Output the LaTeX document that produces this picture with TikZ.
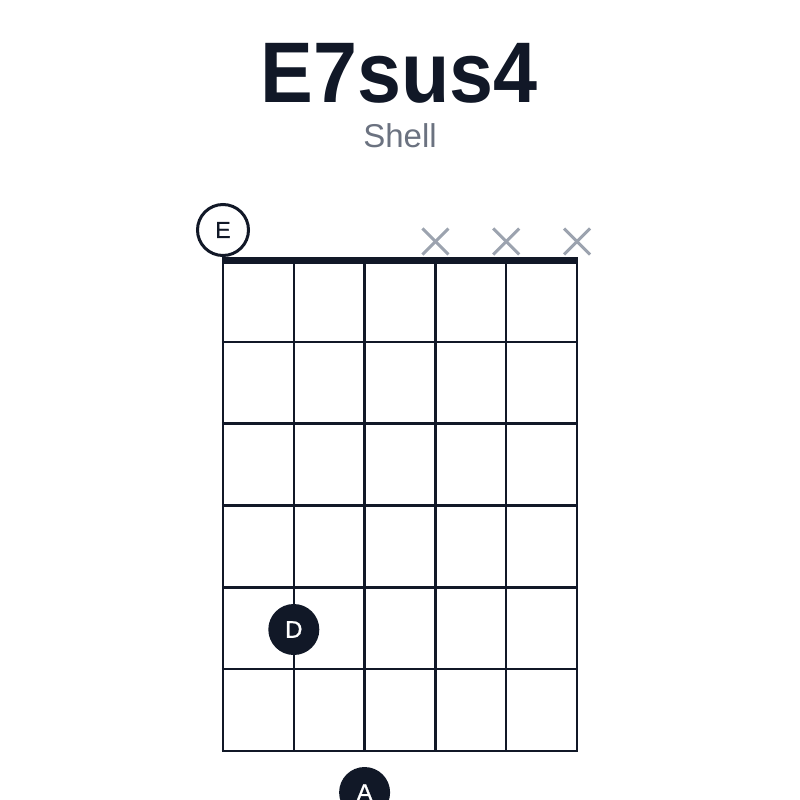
\documentclass[tikz,border=0pt]{standalone}
\usepackage{fontspec}
\setmainfont{Liberation Sans}
\newfontfamily\labelfont[FakeBold=0.9]{Liberation Sans}
\usetikzlibrary{calc}
\definecolor{ink}{HTML}{111827}
\definecolor{subgray}{HTML}{6B7280}
\definecolor{mutegray}{HTML}{9CA3AF}
\begin{document}
\begin{tikzpicture}[x=1pt,y=-1pt,
  gridline/.style={draw=ink,line width=2.4pt},
  nutline/.style={draw=ink,line width=7pt},
  mutemark/.style={draw=mutegray,line width=3pt},
  opendot/.style={circle,draw=ink,fill=white,line width=3pt,minimum size=51pt,inner sep=0pt,text=ink,font=\labelfont\fontsize{23}{23}\selectfont},
  fingerdot/.style={circle,fill=ink,minimum size=51pt,inner sep=0pt,text=white,font=\labelfont\fontsize{24}{24}\selectfont}]
\useasboundingbox (0,0) rectangle (800,800);
\clip (0,0) rectangle (800,800);
% title
\node[anchor=base,text=ink,inner sep=0pt,xscale=0.92,font=\fontsize{86}{86}\selectfont\bfseries] (title) at (399,102) {E7sus4};
\node[anchor=base,text=subgray,inner sep=0pt,font=\fontsize{33}{33}\selectfont] (subtitle) at (400,147) {Shell};
% strings
\foreach \i in {0,...,5} {
  \coordinate (s\i top) at ({223+70.8*\i},260);
  \coordinate (s\i bot) at ({223+70.8*\i},751);
  \draw[gridline] (s\i top) -- (s\i bot);
}
% frets
\foreach \j in {1,...,6} {
  \coordinate (f\j l) at (221.8,{260+81.83*\j});
  \coordinate (f\j r) at (578.2,{260+81.83*\j});
  \draw[gridline] (f\j l) -- (f\j r);
}
% nut
\coordinate (nutl) at (221.8,260.5);
\coordinate (nutr) at (578.2,260.5);
\draw[nutline] (nutl) -- (nutr);
% muted strings
\foreach \i in {3,4,5} {
  \coordinate (m\i) at ({223+70.8*\i},241.5);
  \draw[mutemark] ($(m\i)+(-13,-13)$) -- ($(m\i)+(13,13)$);
  \draw[mutemark] ($(m\i)+(-13,13)$) -- ($(m\i)+(13,-13)$);
}
% open string
\node[opendot] (openE) at (223,230) {E};
% fingered notes
\node[fingerdot] (dotD) at (293.8,629.5) {D};
\node[fingerdot] (dotA) at (364.6,792.5) {A};
\end{tikzpicture}
\end{document}
